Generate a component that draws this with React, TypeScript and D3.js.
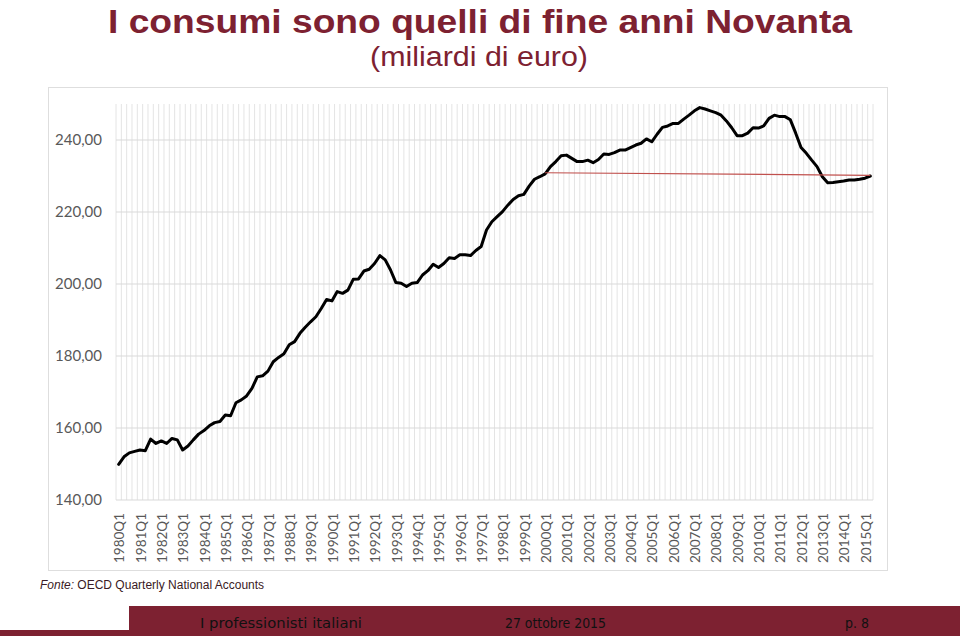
import React from "react";
import * as d3 from "d3";

const startYear = 1980;
const values: number[] = [
  149.9, 152.0, 153.1, 153.5, 153.9, 153.7, 156.9, 155.7, 156.4, 155.7,
  157.1, 156.7, 153.9, 155.0, 156.7, 158.3, 159.3, 160.6, 161.5, 161.8,
  163.6, 163.4, 167.0, 167.8, 168.9, 171.0, 174.2, 174.5, 175.8, 178.4,
  179.6, 180.6, 183.1, 184.0, 186.3, 188.0, 189.5, 190.9, 193.2, 195.7,
  195.3, 197.9, 197.4, 198.3, 201.3, 201.4, 203.6, 204.1, 205.7, 207.9,
  206.7, 203.9, 200.4, 200.2, 199.3, 200.2, 200.4, 202.5, 203.7, 205.5,
  204.6, 205.7, 207.3, 207.1, 208.1, 208.1, 207.9, 209.3, 210.4, 215.0,
  217.3, 218.7, 220.1, 221.9, 223.5, 224.5, 224.9, 227.2, 229.1, 229.8,
  230.6, 232.6, 234.0, 235.6, 235.8, 234.9, 234.0, 234.0, 234.4, 233.7,
  234.6, 236.1, 236.0, 236.5, 237.2, 237.2, 237.9, 238.6, 239.1, 240.3,
  239.5, 241.6, 243.5, 243.9, 244.6, 244.6, 245.8, 246.9, 248.1, 249.0,
  248.6, 248.1, 247.6, 246.9, 245.3, 243.4, 241.2, 241.2, 241.9, 243.4,
  243.3, 243.9, 246.0, 246.9, 246.5, 246.5, 245.6, 241.9, 237.9, 236.3,
  234.4, 232.6, 229.8, 228.1, 228.2, 228.4, 228.6, 228.9, 228.9, 229.1,
  229.4, 230.0,
];
const quarters: string[] = values.map(
  (_, i) => `${startYear + Math.floor(i / 4)}Q${(i % 4) + 1}`
);
const refQuarters = ["2000Q1", "2015Q2"];
const refValues = [230.9, 230.2];
const yTicks = [140, 160, 180, 200, 220, 240];

const fmt = (v: number) => v.toFixed(2).replace(".", ",");

export default function App() {
  const W = 960, H = 636;
  const left = 116, right = 873, top = 104, bottom = 500;
  const x = d3.scaleBand<string>().domain(quarters).range([left, right]).paddingInner(0).paddingOuter(0);
  const y = d3.scaleLinear().domain([140, 250]).range([bottom, top]);
  const cx = (q: string) => (x(q) as number) + x.bandwidth() / 2;
  const line = d3.line<number>().x((_, i) => cx(quarters[i])).y((d) => y(d)).curve(d3.curveLinear);
  const refLine = d3.line<number>().x((_, i) => cx(refQuarters[i])).y((d) => y(d));
  const bounds = d3.range(quarters.length + 1).map((i) => left + i * x.step());
  const maroon = "#7d2131";
  return (
    <svg width={W} height={H} style={{ position: "absolute", left: 0, top: 0, background: "#fff" }}>
      <rect x={0} y={0} width={W} height={H} fill="#fff" />
      <text x={480} y={33} textAnchor="middle" fill={maroon} fontFamily="'Liberation Sans Narrow','Arial Narrow','Liberation Sans',sans-serif" fontWeight="bold" fontSize={34} textLength={744} lengthAdjust="spacingAndGlyphs">I consumi sono quelli di fine anni Novanta</text>
      <text x={479} y={66} textAnchor="middle" fill={maroon} fontFamily="'Liberation Sans Narrow','Arial Narrow','Liberation Sans',sans-serif" fontSize={27} textLength={218} lengthAdjust="spacingAndGlyphs">(miliardi di euro)</text>
      <rect x={48.5} y={87.5} width={839} height={483} fill="#fff" stroke="#dedede" strokeWidth={1} />
      {bounds.map((b, i) => (
        <line key={"v" + i} x1={b} x2={b} y1={top} y2={bottom} stroke="#e4e4e4" strokeWidth={1} />
      ))}
      {yTicks.map((t) => (
        <line key={"h" + t} x1={left} x2={right} y1={y(t)} y2={y(t)} stroke="#d9d9d9" strokeWidth={1} />
      ))}
      {yTicks.map((t) => (
        <text key={"yl" + t} x={102} y={y(t)} dy="0.35em" textAnchor="end" fill="#595959" fontFamily="Lato, 'Open Sans', sans-serif" fontSize={15}>{fmt(t)}</text>
      ))}
      {quarters.filter((q) => q.endsWith("Q1")).map((q) => (
        <text key={q} transform={`translate(${cx(q) + 1},513) rotate(-90)`} textAnchor="end" dy="0.35em" fill="#595959" fontFamily="Lato, 'Open Sans', sans-serif" fontSize={13.5}>{q}</text>
      ))}
      <path d={line(values) || ""} fill="none" stroke="#000" strokeWidth={3} strokeLinejoin="round" strokeLinecap="round" />
      <path d={refLine(refValues) || ""} fill="none" stroke="#c0504d" strokeWidth={1.2} />
      <text x={40} y={589} fill="#3a1a24" fontFamily="'Liberation Sans',Arial,sans-serif" fontSize={12}>
        <tspan fontStyle="italic">Fonte:</tspan> OECD Quarterly National Accounts
      </text>
      <rect x={0} y={630} width={130} height={6} fill={maroon} />
      <rect x={129} y={606} width={831} height={30} fill={maroon} />
      <text x={200} y={628} fill="#111" fontFamily="'DejaVu Sans Condensed','Liberation Sans Narrow','Liberation Sans',sans-serif" fontSize={14} textLength={162} lengthAdjust="spacingAndGlyphs">I professionisti italiani</text>
      <text x={505} y={628} fill="#111" fontFamily="'DejaVu Sans Condensed','Liberation Sans Narrow','Liberation Sans',sans-serif" fontSize={14} textLength={101} lengthAdjust="spacingAndGlyphs">27 ottobre 2015</text>
      <text x={845} y={628} fill="#111" fontFamily="'DejaVu Sans Condensed','Liberation Sans Narrow','Liberation Sans',sans-serif" fontSize={14}>p. 8</text>
    </svg>
  );
}
